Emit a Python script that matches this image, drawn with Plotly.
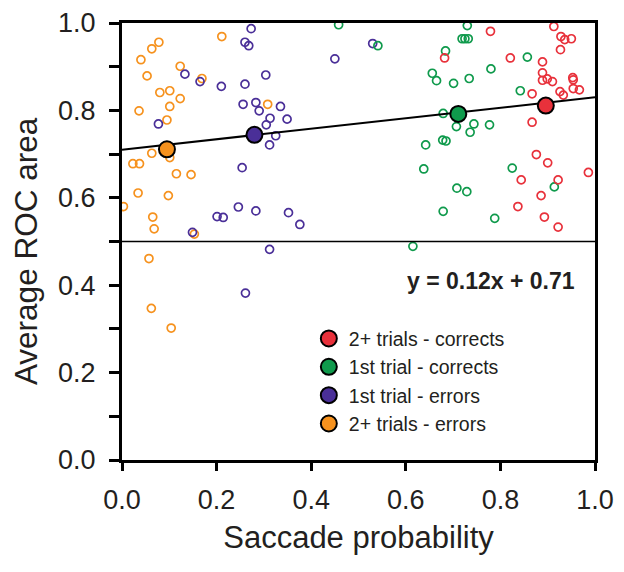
import plotly.graph_objects as go

# ---------------- data ----------------
orange_x = [0.078, 0.063, 0.040, 0.211, 0.123, 0.053, 0.169, 0.080, 0.101, 0.123,
            0.101, 0.036, 0.095, 0.308, 0.063, 0.101, 0.023, 0.037, 0.115, 0.146,
            0.034, 0.098, 0.003, 0.065, 0.068, 0.153, 0.057, 0.062, 0.104]
orange_y = [0.956, 0.941, 0.916, 0.969, 0.901, 0.879, 0.873, 0.841, 0.845, 0.827,
            0.809, 0.799, 0.778, 0.814, 0.702, 0.692, 0.678, 0.678, 0.655, 0.653,
            0.611, 0.605, 0.580, 0.556, 0.529, 0.517, 0.461, 0.347, 0.302]

purple_x = [0.273, 0.260, 0.268, 0.450, 0.133, 0.165, 0.304, 0.210, 0.260, 0.256,
            0.283, 0.290, 0.335, 0.313, 0.349, 0.305, 0.325, 0.312, 0.077, 0.254,
            0.246, 0.283, 0.201, 0.214, 0.352, 0.376, 0.149, 0.312, 0.261, 0.530]
purple_y = [0.987, 0.956, 0.948, 0.918, 0.883, 0.866, 0.881, 0.855, 0.860, 0.814,
            0.818, 0.799, 0.809, 0.782, 0.780, 0.767, 0.742, 0.721, 0.769, 0.669,
            0.579, 0.570, 0.557, 0.555, 0.566, 0.539, 0.521, 0.482, 0.382, 0.953]

green_x = [0.541, 0.458, 0.730, 0.719, 0.725, 0.732, 0.684, 0.857, 0.780, 0.656,
           0.665, 0.701, 0.734, 0.842, 0.679, 0.707, 0.744, 0.736, 0.777, 0.642,
           0.678, 0.685, 0.638, 0.825, 0.708, 0.729, 0.914, 0.679, 0.788, 0.615]
green_y = [0.948, 0.996, 0.994, 0.964, 0.964, 0.964, 0.936, 0.922, 0.895, 0.885,
           0.868, 0.862, 0.873, 0.845, 0.793, 0.763, 0.769, 0.750, 0.767, 0.721,
           0.732, 0.730, 0.666, 0.668, 0.622, 0.614, 0.625, 0.569, 0.553, 0.489]

red_x = [0.779, 0.682, 0.821, 0.889, 0.889, 0.899, 0.889, 0.910, 0.867, 0.867,
         0.876, 0.900, 0.844, 0.886, 0.837, 0.893, 0.922, 0.913, 0.928, 0.936,
         0.950, 0.927, 0.953, 0.954, 0.954, 0.967, 0.926, 0.933, 0.922, 0.986]
red_y = [0.981, 0.920, 0.920, 0.911, 0.886, 0.872, 0.869, 0.866, 0.838, 0.773,
         0.699, 0.680, 0.641, 0.605, 0.580, 0.556, 0.533, 0.992, 0.969, 0.962,
         0.964, 0.939, 0.875, 0.870, 0.850, 0.847, 0.843, 0.835, 0.641, 0.658]

# group means (x, y), legend order top to bottom
mean_names = ["2+ trials - corrects", "1st trial - corrects", "1st trial - errors", "2+ trials - errors"]
mean_x = [0.896, 0.711, 0.280, 0.095]
mean_y = [0.811, 0.792, 0.744, 0.711]

slope = 0.12
intercept = 0.71
chance_level = 0.5
fit_x = [0.0, 1.0]

x_title = "Saccade probability"
y_title = "Average ROC area"
x_tickvals = [0.0, 0.2, 0.4, 0.6, 0.8, 1.0]
x_ticktext = ["0.0", "0.2", "0.4", "0.6", "0.8", "1.0"]
y_tickvals = [0.0, 0.1, 0.2, 0.3, 0.4, 0.5, 0.6, 0.7, 0.8, 0.9, 1.0]
y_ticktext = ["0.0", "", "0.2", "", "0.4", "", "0.6", "", "0.8", "", "1.0"]

# ---------------- styles ----------------
RED = "#e8313b"
GREEN = "#0f9a4c"
PURPLE = "#4a2f98"
ORANGE = "#f6921e"
TEXT = "#231f20"
FONT = "Liberation Sans, Arial, Helvetica, sans-serif"

fig = go.Figure()

for xs, ys, col in [(orange_x, orange_y, ORANGE), (purple_x, purple_y, PURPLE),
                    (green_x, green_y, GREEN), (red_x, red_y, RED)]:
    fig.add_trace(go.Scatter(
        x=xs, y=ys, mode="markers", showlegend=False, hoverinfo="skip",
        marker=dict(symbol="circle-open", size=8, color=col,
                    line=dict(width=1.7, color=col))))

# chance line
fig.add_trace(go.Scatter(x=[0, 1], y=[chance_level, chance_level], mode="lines",
                         showlegend=False, line=dict(color="black", width=1.3)))

# regression line
fit_y = [slope * v + intercept for v in fit_x]
fig.add_trace(go.Scatter(x=fit_x, y=fit_y, mode="lines", showlegend=False,
                         line=dict(color="black", width=2)))

mean_cols = [RED, GREEN, PURPLE, ORANGE]
for i, (name, col) in enumerate(zip(mean_names, mean_cols)):
    fig.add_trace(go.Scatter(
        x=[mean_x[i]], y=[mean_y[i]], mode="markers", name=name,
        marker=dict(symbol="circle", size=16, color=col,
                    line=dict(width=2, color="black"))))

fig.add_annotation(
    x=0.963, y=0.410, xref="paper", yref="paper", xanchor="right", yanchor="middle",
    text=f"<b>y = {slope:.2f}x + {intercept:.2f}</b>", showarrow=False,
    font=dict(family=FONT, size=23, color=TEXT))

# y-axis title (placed as rotated text to match the reference offset)
fig.add_annotation(
    x=-0.203, y=0.478, xref="paper", yref="paper", xanchor="center", yanchor="middle",
    text=y_title, textangle=-90, showarrow=False,
    font=dict(family=FONT, size=31.5, color=TEXT))

axis_common = dict(
    showgrid=False, zeroline=False, showline=True, linewidth=3, linecolor="black",
    mirror=True, ticks="outside", tickwidth=3, tickcolor="black", automargin=False,
    tickfont=dict(family=FONT, size=27, color=TEXT),
)

fig.update_layout(
    width=608, height=556,
    margin=dict(l=114, r=21, t=15, b=104),
    plot_bgcolor="white", paper_bgcolor="white",
    font=dict(family=FONT, color=TEXT),
    xaxis=dict(range=[0, 1], tickvals=x_tickvals, ticktext=x_ticktext, ticklen=8,
               ticklabelstandoff=6,
               title=dict(text=x_title, font=dict(family=FONT, size=31, color=TEXT),
                          standoff=12),
               **axis_common),
    yaxis=dict(range=[0, 1], tickvals=y_tickvals, ticktext=y_ticktext, ticklen=10,
               ticklabelstandoff=8,
               **axis_common),
    legend=dict(x=0.395, y=0.322, xanchor="left", yanchor="top",
                font=dict(family=FONT, size=19.5, color=TEXT),
                bgcolor="rgba(0,0,0,0)", itemsizing="trace"),
    showlegend=True,
)

fig.write_html("out.html")
